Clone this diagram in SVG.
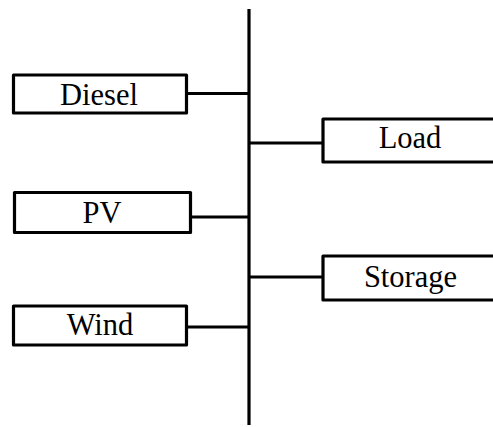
<svg xmlns="http://www.w3.org/2000/svg" width="493" height="427" viewBox="0 0 493 427">
<style>
.box{fill:#fff;stroke:#000;stroke-width:3.2;stroke-linejoin:round}
.lbl{font-family:"Liberation Serif","Times New Roman",serif;font-size:30.5px;fill:#000;text-anchor:middle}
.wire{stroke:#000;stroke-width:2.8;fill:none}
</style>
<rect width="493" height="427" fill="#fff"/>
<g id="connectors">
<line class="wire" x1="249" y1="9" x2="249" y2="425" style="stroke-width:3.2"/>
<line class="wire" x1="187" y1="93.5" x2="249" y2="93.5"/>
<line class="wire" x1="249" y1="143" x2="322" y2="143"/>
<line class="wire" x1="191" y1="217" x2="249" y2="217"/>
<line class="wire" x1="249" y1="277" x2="322" y2="277"/>
<line class="wire" x1="187" y1="327" x2="249" y2="327"/>
</g>
<g id="diesel"><rect class="box" x="13.5" y="75" width="173" height="38"/><text class="lbl" x="99" y="105">Diesel</text></g>
<g id="load"><rect class="box" x="323" y="119" width="180" height="43"/><text class="lbl" x="410" y="148">Load</text></g>
<g id="pv"><rect class="box" x="14.5" y="192.5" width="176" height="40"/><text class="lbl" x="102" y="223">PV</text></g>
<g id="storage"><rect class="box" x="323" y="256" width="180" height="44"/><text class="lbl" x="410.5" y="287">Storage</text></g>
<g id="wind"><rect class="box" x="13.5" y="306" width="173" height="39"/><text class="lbl" x="100" y="335">Wind</text></g>
</svg>
